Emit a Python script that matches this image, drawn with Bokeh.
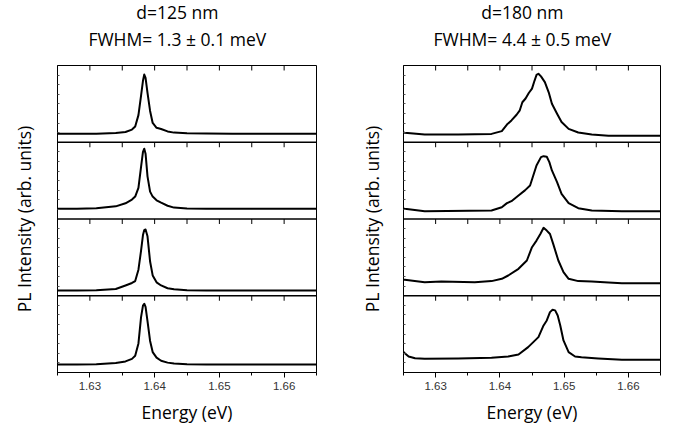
from bokeh.plotting import figure
from bokeh.models import Range1d, FixedTicker, Span
from bokeh.core.properties import value
from bokeh.layouts import row, column
from bokeh.embed import file_html
from bokeh.resources import INLINE

# ---------------- data ----------------
x_major = [1.63, 1.64, 1.65, 1.66]
x_minor = [1.625, 1.635, 1.645, 1.655, 1.665]
x_lo, x_hi = 1.625, 1.665

titles_left = ["d=125 nm", "FWHM= 1.3 \u00b1 0.1 meV"]
titles_right = ["d=180 nm", "FWHM= 4.4 \u00b1 0.5 meV"]
x_label = "Energy (eV)"
y_label = "PL Intensity (arb. units)"

# d = 125 nm (left column), panels top -> bottom
E_L = [1.625, 1.628, 1.631, 1.634, 1.6355, 1.6365, 1.637, 1.6375, 1.6379, 1.6382,
       1.6384, 1.6386, 1.6389, 1.6393, 1.6397, 1.6403, 1.641, 1.642, 1.643, 1.645,
       1.648, 1.652, 1.656, 1.660, 1.665]
I_L1 = [0.016, 0.016, 0.018, 0.031, 0.046, 0.086, 0.136, 0.326, 0.646, 0.896,
        1.0, 0.946, 0.696, 0.396, 0.196, 0.116, 0.096, 0.056, 0.036, 0.026,
        0.021, 0.016, 0.016, 0.016, 0.016]
I_L2 = [0.045, 0.047, 0.055, 0.086, 0.137, 0.198, 0.248, 0.391, 0.737, 0.991,
        1.042, 0.960, 0.584, 0.330, 0.248, 0.187, 0.147, 0.096, 0.065, 0.050,
        0.045, 0.045, 0.045, 0.045, 0.045]
I_L3 = [-0.037, -0.037, -0.032, -0.011, 0.047, 0.088, 0.120, 0.308, 0.621, 0.883,
        0.966, 0.977, 0.862, 0.444, 0.214, 0.099, 0.047, 0.000, -0.016, -0.032,
        -0.037, -0.037, -0.037, -0.037, -0.037]
I_L4 = [0.009, 0.009, 0.014, 0.035, 0.060, 0.102, 0.153, 0.359, 0.791, 0.987,
        1.017, 0.966, 0.729, 0.400, 0.215, 0.122, 0.071, 0.040, 0.024, 0.014,
        0.009, 0.009, 0.009, 0.009, 0.009]

# d = 180 nm (right column), panels top -> bottom
E_R1 = [1.625, 1.6252, 1.6283, 1.6335, 1.6387, 1.6403, 1.6411, 1.6418, 1.6426, 1.6431,
        1.6435, 1.6440, 1.6445, 1.6450, 1.6454, 1.6457, 1.6460, 1.6464, 1.6470, 1.6476,
        1.6481, 1.6489, 1.6496, 1.6507, 1.6522, 1.6543, 1.6569, 1.6600, 1.6650]
I_R1 = [0.036, 0.033, 0.005, 0.005, 0.015, 0.061, 0.170, 0.238, 0.332, 0.406,
        0.540, 0.602, 0.694, 0.766, 0.900, 0.993, 1.013, 0.969, 0.874, 0.705,
        0.514, 0.349, 0.211, 0.098, 0.038, 0.005, -0.016, -0.016, -0.016]
E_R2 = [1.625, 1.6252, 1.6283, 1.6387, 1.6403, 1.6411, 1.6418, 1.6429, 1.6439, 1.6447,
        1.6452, 1.6457, 1.6464, 1.6468, 1.6473, 1.6477, 1.6481, 1.6489, 1.6496, 1.6507,
        1.6522, 1.6543, 1.6590, 1.6650]
I_R2 = [0.048, 0.045, 0.006, 0.017, 0.071, 0.139, 0.172, 0.267, 0.351, 0.432,
        0.598, 0.765, 0.903, 0.919, 0.910, 0.820, 0.682, 0.488, 0.294, 0.139,
        0.055, 0.017, 0.006, 0.006]
E_R3 = [1.625, 1.6252, 1.6283, 1.6309, 1.6361, 1.6387, 1.6403, 1.6413, 1.6429, 1.6442,
        1.6450, 1.6457, 1.6463, 1.6468, 1.6473, 1.6478, 1.6483, 1.6491, 1.6499, 1.6507,
        1.6522, 1.6543, 1.6569, 1.6590, 1.6650]
I_R3 = [0.143, 0.141, 0.102, 0.113, 0.102, 0.119, 0.157, 0.212, 0.323, 0.461,
        0.682, 0.792, 0.902, 1.004, 0.958, 0.902, 0.737, 0.461, 0.268, 0.157,
        0.119, 0.113, 0.096, 0.084, 0.084]
E_R4 = [1.625, 1.6252, 1.6258, 1.6268, 1.6283, 1.6335, 1.6387, 1.6413, 1.6429, 1.6444,
        1.6460, 1.6468, 1.6473, 1.6478, 1.6482, 1.6486, 1.6490, 1.6494, 1.6499, 1.6507,
        1.6517, 1.6527, 1.6553, 1.6590, 1.6650]
I_R4 = [0.219, 0.197, 0.142, 0.114, 0.103, 0.109, 0.120, 0.142, 0.175, 0.297,
        0.463, 0.657, 0.740, 0.878, 0.917, 0.907, 0.823, 0.657, 0.408, 0.214,
        0.142, 0.130, 0.109, 0.086, 0.086]

# intensity range shown inside each stacked panel
panel_lo, panel_hi = -0.124, 1.15

LABEL_FONT = "Open Sans"
TICK_FONT = "Liberation Sans"
HEADER_H = 60


def build_header(title_lines, border_left, border_right):
    h = figure(width=344, height=HEADER_H, x_range=Range1d(x_lo, x_hi),
               y_range=Range1d(0, HEADER_H), output_backend="svg",
               toolbar_location=None, x_axis_location=None, y_axis_location=None,
               min_border_left=border_left, min_border_right=border_right,
               min_border_top=0, min_border_bottom=0)
    h.title.visible = False
    h.outline_line_color = None
    h.grid.visible = False
    h.background_fill_color = "white"
    h.border_fill_color = "white"
    h.text(x=[1.6435, 1.6435], y=[HEADER_H - 11, HEADER_H - 38], text=title_lines,
           text_font=value(LABEL_FONT), text_font_size="17.5px",
           text_align="center", text_baseline="middle", text_color="black")
    return h


def build(curves, border_left, border_right, ylabel_standoff):
    n = len(curves)
    p = figure(width=344, height=426 - HEADER_H,
               x_range=Range1d(x_lo, x_hi), y_range=Range1d(0, n),
               output_backend="svg", toolbar_location=None,
               min_border_left=border_left, min_border_right=border_right,
               min_border_top=5, min_border_bottom=54)
    p.title.visible = False
    p.background_fill_color = "white"
    p.border_fill_color = "white"
    p.outline_line_color = "black"
    p.outline_line_width = 1
    p.grid.visible = False

    # x axis
    xa = p.xaxis[0]
    xa.ticker = FixedTicker(ticks=x_major, minor_ticks=x_minor)
    xa.major_tick_out = 5
    xa.major_tick_in = 0
    xa.minor_tick_out = 3
    xa.minor_tick_in = 0
    xa.axis_line_color = "black"
    xa.major_tick_line_color = "black"
    xa.minor_tick_line_color = "black"
    xa.major_label_text_font = TICK_FONT
    xa.major_label_text_font_size = "11.5px"
    xa.major_label_text_color = "#333333"
    xa.major_label_standoff = 4
    xa.axis_label = x_label
    xa.axis_label_text_font = LABEL_FONT
    xa.axis_label_text_font_size = "17.5px"
    xa.axis_label_text_font_style = "normal"
    xa.axis_label_text_color = "black"
    xa.axis_label_standoff = 7

    # y axis: only small inward ticks, no numbers
    ya = p.yaxis[0]
    ya.ticker = FixedTicker(ticks=[], minor_ticks=[k + j / 8 for k in range(n) for j in range(1, 8)])
    ya.major_tick_in = 0
    ya.major_tick_out = 0
    ya.minor_tick_in = 2
    ya.minor_tick_out = 0
    ya.major_label_text_font_size = "0px"
    ya.major_label_standoff = 0
    ya.axis_line_color = "black"
    ya.minor_tick_line_color = "#555555"
    ya.axis_label = y_label
    ya.axis_label_text_font = LABEL_FONT
    ya.axis_label_text_font_size = "17.5px"
    ya.axis_label_text_font_style = "normal"
    ya.axis_label_text_color = "black"
    ya.axis_label_standoff = ylabel_standoff

    # stacked panels: each curve gets its own y scale occupying one band
    span = panel_hi - panel_lo
    ranges = {}
    for i in range(n):
        k = n - 1 - i  # band index counted from the bottom
        ranges["panel%d" % i] = Range1d(panel_lo - k * span, panel_hi + (n - 1 - k) * span)
    p.extra_y_ranges = ranges

    for i, (E, I) in enumerate(curves):
        p.line(E, I, y_range_name="panel%d" % i, line_color="black",
               line_width=2, line_join="round")

    # separators between panels
    for k in range(1, n):
        p.add_layout(Span(location=k, dimension="width", line_color="black",
                          line_width=1.5))

    # inward ticks along the top of every panel
    top_ticks = sorted(x_major + x_minor[1:-1])
    tick_len = 0.065
    xs, y0s, y1s = [], [], []
    for k in range(1, n + 1):
        for t in top_ticks:
            xs.append(t)
            y0s.append(k)
            y1s.append(k - tick_len)
    p.segment(x0=xs, y0=y0s, x1=xs, y1=y1s, line_color="black", line_width=1)
    return p


left = column(build_header(titles_left, 57, 28),
              build([(E_L, I_L1), (E_L, I_L2), (E_L, I_L3), (E_L, I_L4)], 57, 28, 22),
              spacing=0)
right = column(build_header(titles_right, 59, 28),
               build([(E_R1, I_R1), (E_R2, I_R2), (E_R3, I_R3), (E_R4, I_R4)], 59, 28, 20),
               spacing=0)

layout = row(left, right, spacing=0)
open("out.html", "w").write(file_html(layout, INLINE))
